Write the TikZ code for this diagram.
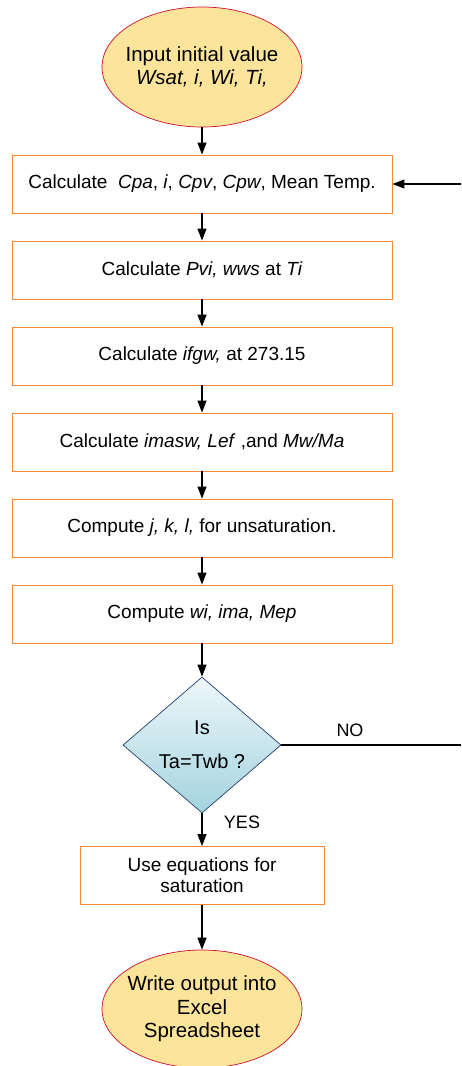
\documentclass[tikz,border=0pt]{standalone}
\usepackage{fontspec}
\setmainfont{Liberation Sans}
\usetikzlibrary{shapes.geometric,arrows.meta}
\definecolor{boxorange}{HTML}{F0883A}
\definecolor{ellfill}{HTML}{FDE49B}
\definecolor{ellborder}{HTML}{C8102E}
\definecolor{dborder}{HTML}{243F6E}
\definecolor{dtop}{HTML}{EEF7FB}
\definecolor{dbot}{HTML}{A3D3DE}
\tikzset{
  stepbox/.style={draw=boxorange, line width=0.9pt, minimum width=380pt, minimum height=58pt, inner sep=0pt, font=\fontsize{19}{21}\selectfont, align=center},
  termell/.style={ellipse, draw=ellborder, fill=ellfill, line width=0.7pt, minimum width=200pt, minimum height=120pt, inner sep=0pt},
  elltext/.style={font=\fontsize{20.5}{23.5}\selectfont, align=center},
  decide/.style={diamond, draw=dborder, top color=dtop, bottom color=dbot, line width=0.7pt, minimum width=158pt, minimum height=136pt, inner sep=0pt, font=\fontsize{20}{22}\selectfont, align=center},
  flow/.style={line width=1.1pt, -{Triangle[length=12pt,width=9pt]}},
  lbl/.style={font=\fontsize{18}{20}\selectfont}
}
\begin{document}
\begin{tikzpicture}[x=1pt,y=-1pt]
\useasboundingbox (0,0) rectangle (461,1066);
\node[termell, label={[elltext]center:{Input initial value\\\textit{Wsat, i, Wi, Ti,}}}] (start) at (202,67) {};
\node[stepbox] (b1) at (202,184) {Calculate \ \textit{Cpa}, \textit{i}, \textit{Cpv}, \textit{Cpw}, Mean Temp.};
\node[stepbox] (b2) at (202,270) {Calculate \textit{Pvi, wws} at \textit{Ti}};
\node[stepbox] (b3) at (202,356) {Calculate \textit{ifgw,} at 273.15};
\node[stepbox] (b4) at (202,442) {Calculate \textit{imasw, Lef} ,and \textit{Mw/Ma}};
\node[stepbox] (b5) at (202,528) {Compute \textit{j, k, l,} for unsaturation.};
\node[stepbox] (b6) at (202,614) {Compute \textit{wi, ima, Mep}};
\node[decide] (d) at (202,745) {Is\\[12pt]Ta=Twb ?};
\node[stepbox, minimum width=244pt] (b7) at (202,875.5) {Use equations for\\saturation};
\node[termell, minimum height=118pt, label={[elltext]center:{Write output into\\Excel\\Spreadsheet}}] (end) at (202,1009) {};
\coordinate (noend) at (461,745);
\coordinate (backin) at (461,184);
\draw[flow] (start) -- (b1);
\draw[flow] (b1) -- (b2);
\draw[flow] (b2) -- (b3);
\draw[flow] (b3) -- (b4);
\draw[flow] (b4) -- (b5);
\draw[flow] (b5) -- (b6);
\draw[flow] (b6) -- (d);
\draw[flow] (d) -- (b7);
\draw[flow] (b7) -- (end);
\draw[line width=1.1pt] (d.east) -- (noend);
\draw[flow] (backin) -- (b1.east);
\node[lbl] (nolbl) at (350,730) {NO};
\node[lbl] (yeslbl) at (242,822) {YES};
\end{tikzpicture}
\end{document}
